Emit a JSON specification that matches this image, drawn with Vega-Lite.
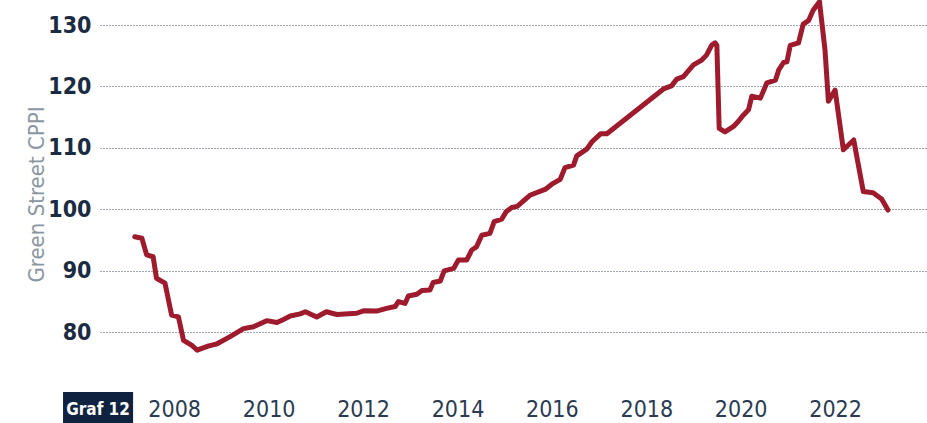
{
  "$schema": "https://vega.github.io/schema/vega-lite/v6.json",
  "autosize": "none",
  "width": 827,
  "height": 370,
  "padding": {"left": 100, "top": 0, "right": 0, "bottom": 53},
  "background": "#ffffff",
  "config": {"view": {"stroke": null}},
  "datasets": {
    "cppi": [
      {"date": "2007-03-02", "value": 95.55},
      {"date": "2007-04-26", "value": 95.3},
      {"date": "2007-06-02", "value": 92.6},
      {"date": "2007-07-22", "value": 92.3},
      {"date": "2007-08-17", "value": 88.8},
      {"date": "2007-10-22", "value": 88.0},
      {"date": "2007-12-12", "value": 82.8},
      {"date": "2008-02-03", "value": 82.5},
      {"date": "2008-03-13", "value": 78.7},
      {"date": "2008-05-14", "value": 77.9},
      {"date": "2008-06-27", "value": 77.1},
      {"date": "2008-09-24", "value": 77.8},
      {"date": "2008-11-25", "value": 78.1},
      {"date": "2009-03-09", "value": 79.3},
      {"date": "2009-06-20", "value": 80.6},
      {"date": "2009-09-06", "value": 80.9},
      {"date": "2009-12-17", "value": 81.9},
      {"date": "2010-03-06", "value": 81.6},
      {"date": "2010-04-26", "value": 82.1},
      {"date": "2010-06-17", "value": 82.65},
      {"date": "2010-09-02", "value": 83.0},
      {"date": "2010-10-12", "value": 83.35},
      {"date": "2011-01-08", "value": 82.5},
      {"date": "2011-03-24", "value": 83.35},
      {"date": "2011-06-13", "value": 82.9},
      {"date": "2011-11-14", "value": 83.1},
      {"date": "2012-01-04", "value": 83.5},
      {"date": "2012-04-15", "value": 83.45},
      {"date": "2012-07-01", "value": 83.9},
      {"date": "2012-09-06", "value": 84.2},
      {"date": "2012-10-01", "value": 85.0},
      {"date": "2012-11-21", "value": 84.7},
      {"date": "2012-12-17", "value": 85.9},
      {"date": "2013-02-21", "value": 86.2},
      {"date": "2013-04-01", "value": 86.8},
      {"date": "2013-06-02", "value": 86.9},
      {"date": "2013-06-27", "value": 88.1},
      {"date": "2013-08-21", "value": 88.35},
      {"date": "2013-09-20", "value": 90.0},
      {"date": "2013-12-02", "value": 90.4},
      {"date": "2014-01-08", "value": 91.75},
      {"date": "2014-03-13", "value": 91.75},
      {"date": "2014-04-22", "value": 93.4},
      {"date": "2014-05-28", "value": 93.9},
      {"date": "2014-07-08", "value": 95.8},
      {"date": "2014-09-09", "value": 96.1},
      {"date": "2014-10-12", "value": 98.0},
      {"date": "2014-12-09", "value": 98.4},
      {"date": "2015-01-12", "value": 99.6},
      {"date": "2015-02-25", "value": 100.3},
      {"date": "2015-04-08", "value": 100.5},
      {"date": "2015-07-15", "value": 102.3},
      {"date": "2015-11-10", "value": 103.25},
      {"date": "2016-01-01", "value": 104.1},
      {"date": "2016-03-06", "value": 104.9},
      {"date": "2016-04-12", "value": 106.8},
      {"date": "2016-06-17", "value": 107.2},
      {"date": "2016-07-12", "value": 108.7},
      {"date": "2016-09-27", "value": 109.8},
      {"date": "2016-11-07", "value": 111.0},
      {"date": "2017-01-12", "value": 112.3},
      {"date": "2017-03-02", "value": 112.3},
      {"date": "2018-05-14", "value": 119.6},
      {"date": "2018-07-15", "value": 120.1},
      {"date": "2018-08-25", "value": 121.2},
      {"date": "2018-10-15", "value": 121.6},
      {"date": "2019-01-01", "value": 123.5},
      {"date": "2019-03-06", "value": 124.3},
      {"date": "2019-04-12", "value": 125.1},
      {"date": "2019-05-21", "value": 126.7},
      {"date": "2019-06-17", "value": 127.1},
      {"date": "2019-07-01", "value": 126.7},
      {"date": "2019-07-19", "value": 113.2},
      {"date": "2019-09-02", "value": 112.6},
      {"date": "2019-11-07", "value": 113.5},
      {"date": "2019-12-13", "value": 114.3},
      {"date": "2020-01-12", "value": 115.1},
      {"date": "2020-03-02", "value": 116.2},
      {"date": "2020-03-27", "value": 118.4},
      {"date": "2020-06-02", "value": 118.1},
      {"date": "2020-07-22", "value": 120.6},
      {"date": "2020-09-27", "value": 121.05},
      {"date": "2020-10-22", "value": 122.7},
      {"date": "2020-11-28", "value": 123.9},
      {"date": "2020-12-24", "value": 124.0},
      {"date": "2021-01-19", "value": 126.7},
      {"date": "2021-03-24", "value": 127.1},
      {"date": "2021-04-29", "value": 130.15},
      {"date": "2021-06-09", "value": 130.7},
      {"date": "2021-07-15", "value": 132.4},
      {"date": "2021-09-02", "value": 133.8},
      {"date": "2021-10-15", "value": 125.9},
      {"date": "2021-11-10", "value": 117.6},
      {"date": "2022-01-01", "value": 119.4},
      {"date": "2022-03-06", "value": 109.7},
      {"date": "2022-05-25", "value": 111.3},
      {"date": "2022-08-07", "value": 102.9},
      {"date": "2022-10-22", "value": 102.7},
      {"date": "2022-12-27", "value": 101.7},
      {"date": "2023-02-14", "value": 99.9}
    ],
    "badge": [
      {"label": "Graf 12", "start": "2005-08-24", "end": "2007-02-17", "mid": "2006-05-22", "top": 70.29, "bottom": 64.5, "base": 66.6}
    ]
  },
  "layer": [
    {
      "data": {"name": "cppi"},
      "mark": {"type": "line", "color": "#9e1b2e", "strokeWidth": 5, "strokeCap": "round", "strokeJoin": "round", "interpolate": "linear"},
      "encoding": {
        "x": {
          "field": "date", "type": "temporal",
          "scale": {"type": "utc", "domain": ["2006-06-06", "2023-12-13"]},
          "axis": {
            "values": [
              {"year": 2008, "utc": true}, {"year": 2010, "utc": true}, {"year": 2012, "utc": true},
              {"year": 2014, "utc": true}, {"year": 2016, "utc": true}, {"year": 2018, "utc": true},
              {"year": 2020, "utc": true}, {"year": 2022, "utc": true}
            ],
            "format": "%Y",
            "title": null,
            "grid": false,
            "domain": false,
            "ticks": false,
            "tickSize": 0,
            "labelPadding": 46,
            "labelBaseline": "alphabetic",
            "labelFont": "DejaVu Sans Condensed, sans-serif",
            "labelFontSize": 23,
            "labelFontWeight": "normal",
            "labelColor": "#2a3b52",
            "labelFlush": false,
            "labelOverlap": false
          }
        },
        "y": {
          "field": "value", "type": "quantitative",
          "scale": {"domain": [73.87, 134.07], "nice": false, "zero": false},
          "axis": {
            "values": [80, 90, 100, 110, 120, 130],
            "title": "Green Street CPPI",
            "titleFont": "DejaVu Sans Condensed, sans-serif",
            "titleFontSize": 22,
            "titleFontWeight": "normal",
            "titleColor": "#8b96a3",
            "titleX": -64,
            "titleY": 194,
            "titleAngle": -90,
            "titleAlign": "center",
            "titleBaseline": "middle",
            "grid": true,
            "gridColor": "#3c4c63",
            "gridDash": [1, 2],
            "gridWidth": 1,
            "domain": false,
            "ticks": false,
            "tickSize": 0,
            "labelPadding": 9,
            "labelFont": "DejaVu Sans Condensed, sans-serif",
            "labelFontSize": 23,
            "labelFontWeight": "bold",
            "labelColor": "#1a2b42",
            "labelBaseline": "middle"
          }
        }
      }
    },
    {
      "data": {"name": "badge"},
      "mark": {"type": "rect", "color": "#0f2340", "clip": false},
      "encoding": {
        "x": {"field": "start", "type": "temporal"},
        "x2": {"field": "end"},
        "y": {"field": "top", "type": "quantitative"},
        "y2": {"field": "bottom"}
      }
    },
    {
      "data": {"name": "badge"},
      "mark": {"type": "text", "color": "#ffffff", "font": "DejaVu Sans Condensed, sans-serif", "fontSize": 17, "fontWeight": "bold", "align": "center", "baseline": "alphabetic", "clip": false},
      "encoding": {
        "x": {"field": "mid", "type": "temporal"},
        "y": {"field": "base", "type": "quantitative"},
        "text": {"field": "label"}
      }
    }
  ]
}
